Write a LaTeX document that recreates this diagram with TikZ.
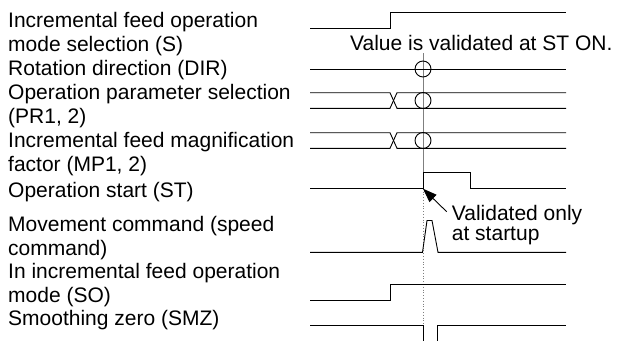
\documentclass[tikz,border=0pt]{standalone}
\usepackage{fontspec}
\setmainfont{Liberation Sans}
\usetikzlibrary{arrows.meta}
\definecolor{guideGray}{HTML}{7F7F7F}

\begin{document}
\begin{tikzpicture}[x=1pt, y=-1pt,
    sigLabel/.style={anchor=base west, align=left, inner sep=0pt, font=\fontsize{21}{23.7}\selectfont},
    noteText/.style={anchor=base west, align=left, inner sep=0pt, font=\fontsize{21}{20.7}\selectfont},
    sigLine/.style={line width=0.9pt, draw=black},
    checkMark/.style={line width=0.9pt, draw=black},
    guideLine/.style={line width=0.8pt, draw=guideGray},
    arrowNote/.style={-{Triangle[length=14pt,width=10pt]}, line width=0.9pt, draw=black}
]
    \useasboundingbox (0,0) rectangle (620,340);

    % signal names (base = baseline of the last line)
    \node[sigLabel] (lblS) at (8, 51) {Incremental feed operation\\mode selection (S)};
    \node[sigLabel] (lblDIR) at (8, 75.3) {Rotation direction (DIR)};
    \node[sigLabel] (lblPR) at (8, 123) {Operation parameter selection\\(PR1, 2)};
    \node[sigLabel] (lblMP) at (8, 171) {Incremental feed magnification\\factor (MP1, 2)};
    \node[sigLabel] (lblST) at (8, 197.5) {Operation start (ST)};
    \node[sigLabel] (lblCMD) at (8, 255.2) {Movement command (speed\\command)};
    \node[sigLabel] (lblSO) at (8, 302) {In incremental feed operation\\mode (SO)};
    \node[sigLabel] (lblSMZ) at (8, 325) {Smoothing zero (SMZ)};

    % notes
    \node[noteText] (valStOn) at (350, 50) {Value is validated at ST ON.};
    \node[noteText] (valStart) at (451.7, 240.7) {Validated only\\at startup};

    \coordinate (guideTop) at (423, 53.3);
    \coordinate (stOn) at (423, 188.7);
    \coordinate (guideEnd) at (423, 325);
    \coordinate (noteTail) at (446.7, 211.7);

    % guide line through the check marks
    \draw[guideLine] (guideTop) -- (stOn);
    \draw[guideLine, dotted] (stOn) -- (guideEnd);

    % S
    \draw[sigLine] (310, 28.3) -- (390, 28.3) -- (390, 12.3) -- (566, 12.3);
    % DIR
    \draw[sigLine] (310, 69) -- (566, 69);
    \draw[checkMark] (423, 69) circle[radius=8];
    % PR1, 2
    \draw[sigLine] (310, 92.7) -- (390, 92.7) -- (397, 108.3) -- (566, 108.3);
    \draw[sigLine] (310, 108.3) -- (390, 108.3) -- (397, 92.7) -- (566, 92.7);
    \draw[checkMark] (423, 100.5) circle[radius=8];
    % MP1, 2
    \draw[sigLine] (310, 132.7) -- (390, 132.7) -- (397, 148.3) -- (566, 148.3);
    \draw[sigLine] (310, 148.3) -- (390, 148.3) -- (397, 132.7) -- (566, 132.7);
    \draw[checkMark] (423, 140.5) circle[radius=8];
    % ST
    \draw[sigLine] (310, 188.7) -- (stOn) -- (423, 172.3) -- (470, 172.3) -- (470, 188.7) -- (566, 188.7);
    % speed command
    \draw[sigLine] (310, 252.3) -- (422.5, 252.3) -- (427, 220.5) -- (432, 220.5) -- (438, 252.3) -- (566, 252.3);
    % SO
    \draw[sigLine] (310, 300.3) -- (390, 300.3) -- (390, 284.3) -- (566, 284.3);
    % SMZ
    \draw[sigLine] (310, 325) -- (423, 325) -- (423, 341);
    \draw[sigLine] (437.7, 341) -- (437.7, 325) -- (566, 325);

    \draw[arrowNote] (noteTail) -- (stOn);
\end{tikzpicture}
\end{document}
